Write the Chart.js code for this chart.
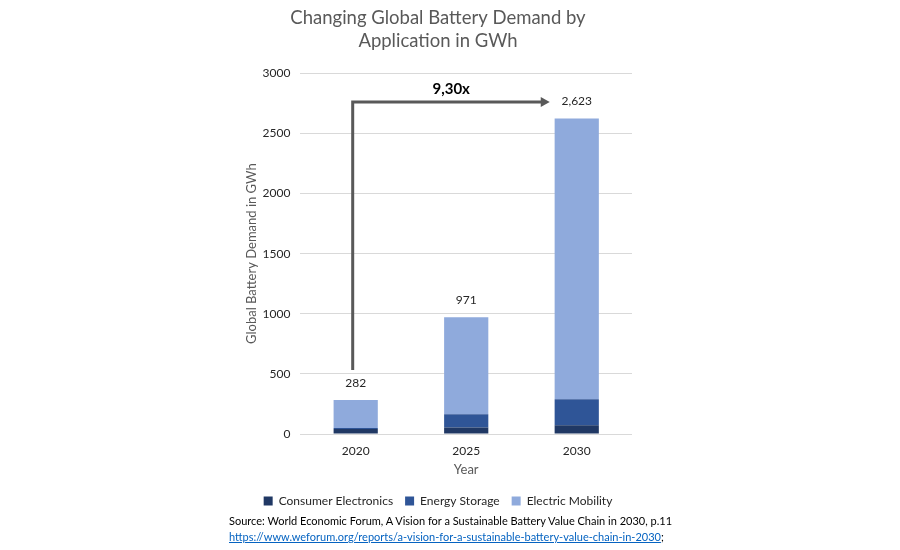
<!DOCTYPE html>
<html>
<head>
<meta charset="utf-8">
<script src="https://cdn.jsdelivr.net/npm/chart.js@4.4.0/dist/chart.umd.min.js"></script>
<style>
  body { margin: 0; background: #fff; }
  #wrap { position: relative; width: 900px; height: 550px; }
  .src { position: absolute; left: 229px; font-family: Lato, sans-serif; font-size: 11px; color: #000; white-space: nowrap; }
  .src a { color: #0563c1; text-decoration: underline; }
</style>
</head>
<body>
<div id="wrap">
  <canvas id="myChart" width="900" height="550"></canvas>
  <div class="src" style="top:514px">Source: World Economic Forum, A Vision for a Sustainable Battery Value Chain in 2030, p.11</div>
  <div class="src" style="top:530px"><a href="https://www.weforum.org/reports/a-vision-for-a-sustainable-battery-value-chain-in-2030">https://www.weforum.org/reports/a-vision-for-a-sustainable-battery-value-chain-in-2030</a>;</div>
</div>
<script>
// data
const years = ["2020", "2025", "2030"];
const consumerElectronics = [42, 55, 72];
const energyStorage = [8, 110, 218];
const electricMobility = [232, 806, 2333];
const totals = [282, 971, 2623];
const growthLabel = "9,30x";

const FONT = "Lato, sans-serif";

//totals above bars + growth arrow
const annotations = {
    id: "annotations",
    afterDatasetsDraw(chart) {
        let ctx = chart.ctx;
        let x = chart.scales.x;
        let y = chart.scales.y;
        ctx.save();
        ctx.fillStyle = "#262626";
        ctx.font = "12px " + FONT;
        ctx.textAlign = "center";
        ctx.textBaseline = "middle";
        totals.forEach((t, i) => {
            ctx.fillText(t.toLocaleString("en-US"), x.getPixelForValue(i), y.getPixelForValue(t) - 17);
        });

        // arrow from 2020 up and across to 2030
        let x0 = x.getPixelForValue(0) - 3;
        let x1 = x.getPixelForValue(2) - 27;
        let yStart = y.getPixelForValue(totals[0]) - 30;
        let yTop = y.getPixelForValue(2760);
        ctx.strokeStyle = "#595959";
        ctx.fillStyle = "#595959";
        ctx.lineWidth = 3;
        ctx.beginPath();
        ctx.moveTo(x0, yStart);
        ctx.lineTo(x0, yTop);
        ctx.lineTo(x1 - 6, yTop);
        ctx.stroke();
        ctx.beginPath();
        ctx.moveTo(x1, yTop);
        ctx.lineTo(x1 - 9, yTop - 5);
        ctx.lineTo(x1 - 9, yTop + 5);
        ctx.closePath();
        ctx.fill();

        ctx.fillStyle = "#000";
        ctx.font = "bold 15px " + FONT;
        ctx.fillText(growthLabel, (x0 + x1) / 2, yTop - 13);
        ctx.restore();
    }
};

let ctx = document.getElementById("myChart").getContext("2d");
let myChart = new Chart(ctx, {
    type: "bar",
    data: {
        labels: years,
        datasets: [
            { label: "Consumer Electronics", data: consumerElectronics, backgroundColor: "#203864" },
            { label: "Energy Storage", data: energyStorage, backgroundColor: "#2f5597" },
            { label: "Electric Mobility", data: electricMobility, backgroundColor: "#8faadc" }
        ]
    },
    options: {
        responsive: false,
        animation: false,
        layout: { padding: { left: 244, right: 268, top: 6, bottom: 33 } },
        datasets: { bar: { categoryPercentage: 1, barPercentage: 0.4 } },
        plugins: {
            title: {
                display: true,
                text: ["Changing Global Battery Demand by", "Application in GWh"],
                color: "#595959",
                font: { family: FONT, size: 18.5, weight: "normal", lineHeight: 1.25 },
                padding: { top: 0, bottom: 21 }
            },
            legend: {
                position: "bottom",
                labels: {
                    color: "#262626",
                    font: { family: FONT, size: 12 },
                    boxWidth: 9,
                    boxHeight: 9,
                    padding: 12
                }
            },
            tooltip: { enabled: false }
        },
        scales: {
            x: {
                stacked: true,
                grid: { display: false },
                border: { display: false },
                ticks: { color: "#262626", font: { family: FONT, size: 12 }, padding: 2 },
                title: { display: true, text: "Year", color: "#595959", font: { family: FONT, size: 13 }, padding: { top: 2, bottom: 5 } }
            },
            y: {
                stacked: true,
                min: 0,
                max: 3000,
                ticks: { stepSize: 500, color: "#262626", font: { family: FONT, size: 12 }, padding: 10, callback: v => String(v) },
                grid: { color: "#d9d9d9", drawTicks: false },
                border: { display: false },
                title: { display: true, text: "Global Battery Demand in GWh", color: "#595959", font: { family: FONT, size: 13 }, padding: { top: 0, bottom: -7 } }
            }
        }
    },
    plugins: [annotations]
});
</script>
</body>
</html>
